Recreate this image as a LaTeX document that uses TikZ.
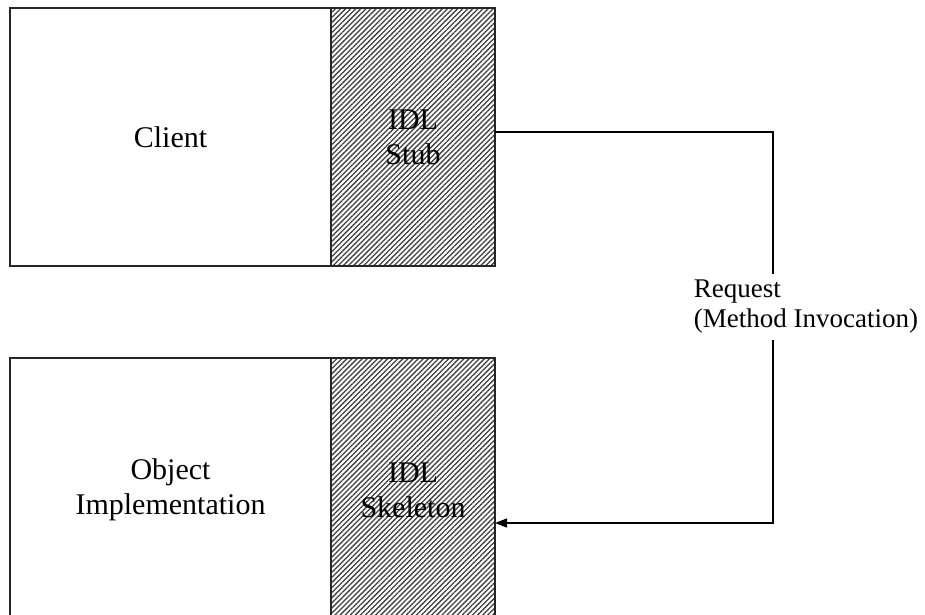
\documentclass[tikz,border=0pt]{standalone}
\usepackage{fontspec}
\setmainfont{Liberation Serif}
\usetikzlibrary{patterns.meta,arrows.meta}
\begin{document}
\begin{tikzpicture}[x=1pt,y=-1pt,
  plainbox/.style={draw=black!85,line width=1.4pt,fill=white,inner sep=0pt,outer sep=0pt,
    anchor=north west,font=\fontsize{30pt}{35pt}\selectfont,align=center},
  hatchbox/.style={plainbox,fill=none,
    pattern={Lines[angle=45,distance=3.6pt,line width=1.3pt]},pattern color=black!75},
  wire/.style={draw=black,line width=1.3pt},
  reqlabel/.style={fill=white,inner sep=6pt,font=\fontsize{27pt}{30pt}\selectfont,align=left},
]
\clip (0,0) rectangle (925,614);
\fill[white] (0,0) rectangle (925,614);

% client side
\node[plainbox,minimum width=321pt,minimum height=258pt] (client) at (10,8) {Client};
\node[hatchbox,minimum width=164pt,minimum height=258pt] (stub) at (331,8) {IDL\\Stub};

% server side (runs past the lower edge)
\node[plainbox,minimum width=321pt,minimum height=264pt] (impl) at (10,358) {Object\\Implementation};
\node[hatchbox,minimum width=164pt,minimum height=264pt] (skel) at (331,358) {IDL\\Skeleton};

% request path from stub to skeleton
\coordinate (c1) at (773,132);
\coordinate (c2) at (773,523);
\draw[wire,-{Triangle[length=12pt,width=9pt]}]
  ([yshift=5pt]stub.east) -- (c1) -- (c2) -- ([yshift=-33pt]skel.east);
\node[reqlabel] (req) at (806,307) {Request\\(Method Invocation)};
\end{tikzpicture}
\end{document}
